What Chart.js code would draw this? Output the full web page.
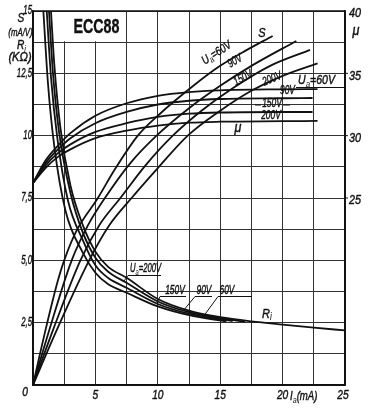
<!DOCTYPE html>
<html>
<head>
<meta charset="utf-8">
<script src="https://cdn.jsdelivr.net/npm/chart.js@4.4.0/dist/chart.umd.min.js"></script>
<style>
  body { margin: 0; background: #fff; }
</style>
</head>
<body>
<canvas id="grafico" width="373" height="410"></canvas>
<script>
// Ia (mA) -> S (mA/V), Ri (kOhm) en eje izquierdo, mu en eje derecho
const sIa60  = [0, 1, 2, 2.5, 3.5, 5.2, 6.5, 8.4, 10, 13.1, 15, 17, 19.2];
const sVal60 = [0, 2.2, 4.2, 5.0, 6.2, 7.5, 8.6, 10.0, 10.8, 12.1, 12.8, 13.4, 14.0];
const sIa90  = [0, 1.3, 3.1, 4.4, 5.9, 7.8, 9.9, 12.5, 15, 17.5, 21.1];
const sVal90 = [0, 2.2, 5.0, 6.4, 7.6, 8.9, 10.0, 11.1, 12.0, 12.8, 13.8];
const sIa150  = [0, 1.6, 3.8, 5.3, 7.0, 9, 11.2, 13.5, 16, 19, 22.2];
const sVal150 = [0, 2.2, 5.0, 6.4, 7.5, 8.8, 10.0, 11.0, 11.9, 12.8, 13.44];
const sIa200  = [0, 1.9, 4.5, 6.1, 7.9, 10, 12.4, 15, 17.5, 20, 22.8];
const sVal200 = [0, 2.2, 5.0, 6.4, 7.5, 8.7, 10.0, 11.0, 11.8, 12.4, 12.9];

const muIa60   = [0, 1, 2, 3, 5, 7.5, 10, 12.5, 15, 20, 22.8];
const muVal60  = [26.2, 28.0, 29.2, 30.2, 31.6, 32.6, 33.2, 33.5, 33.64, 33.72, 33.74];
const muIa90   = [0, 1, 2, 3, 5, 7.5, 10, 12.5, 15, 20, 22.4];
const muVal90  = [26.2, 27.8, 28.9, 29.8, 31.0, 31.9, 32.5, 32.8, 32.94, 33.0, 33.02];
const muIa150  = [0, 1, 2, 3, 5, 7.5, 10, 12.5, 15, 20, 22.4];
const muVal150 = [26.2, 27.6, 28.6, 29.3, 30.3, 31.0, 31.5, 31.76, 31.86, 31.9, 31.9];
const muIa200  = [0, 1, 2, 3, 5, 7.5, 10, 12.5, 15, 20, 22.8];
const muVal200 = [26.2, 27.4, 28.3, 28.9, 29.8, 30.4, 30.8, 31.04, 31.12, 31.16, 31.18];

const riIa200  = [1.44, 1.7, 2.2, 3, 4, 5, 6, 7.5, 10, 12.5, 15, 17.5, 20, 22.5, 25];
const riVal200 = [15, 12.9, 10.3, 8.0, 6.4, 5.35, 4.75, 4.3, 3.45, 2.98, 2.72, 2.55, 2.42, 2.3, 2.19];
const riIa150  = [1.28, 1.6, 2.1, 3, 4, 5, 6, 7.5, 10, 12.5, 15, 17];
const riVal150 = [15, 12.5, 10.1, 7.7, 6.1, 5.1, 4.55, 4.1, 3.35, 2.92, 2.68, 2.54];
const riIa90  = [1.1, 1.45, 1.95, 2.8, 4, 5, 6, 7.5, 10, 12.5, 16];
const riVal90 = [15, 12.3, 9.9, 7.4, 5.8, 4.8, 4.3, 3.9, 3.25, 2.86, 2.56];
const riIa60  = [0.83, 1.2, 1.7, 2.6, 4, 5, 6, 7.5, 10, 12.5, 15.5];
const riVal60 = [15, 12.1, 9.6, 7.0, 5.3, 4.5, 4.05, 3.7, 3.15, 2.8, 2.55];

const ticksIa = [0, 5, 10, 15, 20, 25];
const ticksIzq = [2.5, 5, 7.5, 10, 12.5, 15];
const textoIzq = ['2,5', '5,0', '7,5', '10', '12,5', '15'];
const ticksMu = [25, 30, 35, 40];

const fuente = '"Liberation Sans", Arimo, "DejaVu Sans", sans-serif';

function puntos(xs, ys) {
  return xs.map((x, i) => ({x: x, y: ys[i]}));
}

function curva(xs, ys, eje) {
  return {
    data: puntos(xs, ys),
    yAxisID: eje,
    borderColor: '#111',
    borderWidth: 1.8,
    pointRadius: 0,
    fill: false,
    cubicInterpolationMode: 'monotone'
  };
}

const datasets = [
  curva(sIa60, sVal60, 'y'),
  curva(sIa90, sVal90, 'y'),
  curva(sIa150, sVal150, 'y'),
  curva(sIa200, sVal200, 'y'),
  curva(muIa60, muVal60, 'mu'),
  curva(muIa90, muVal90, 'mu'),
  curva(muIa150, muVal150, 'mu'),
  curva(muIa200, muVal200, 'mu'),
  curva(riIa200, riVal200, 'y'),
  curva(riIa150, riVal150, 'y'),
  curva(riIa90, riVal90, 'y'),
  curva(riIa60, riVal60, 'y')
];

// texto condensado (sx) y girado
function texto(ctx, t, x, y, ang, tam, alin, sx, peso) {
  ctx.save();
  ctx.translate(x, y);
  ctx.rotate(ang * Math.PI / 180);
  ctx.scale(sx || 0.8, 1);
  ctx.font = (peso || 'italic') + ' ' + tam + 'px ' + fuente;
  ctx.textAlign = alin || 'center';
  ctx.textBaseline = 'middle';
  ctx.fillStyle = '#111';
  ctx.strokeStyle = '#111';
  ctx.lineWidth = 0.4;
  ctx.fillText(t, 0, 0);
  ctx.strokeText(t, 0, 0);
  ctx.restore();
}

// base + subindice + resto, alineado a la izquierda
function conSub(ctx, base, sub, resto, x, y, ang, tam, sx) {
  ctx.save();
  ctx.translate(x, y);
  ctx.rotate(ang * Math.PI / 180);
  ctx.scale(sx || 0.8, 1);
  ctx.fillStyle = '#111';
  ctx.strokeStyle = '#111';
  ctx.lineWidth = 0.4;
  ctx.textBaseline = 'middle';
  ctx.textAlign = 'left';
  ctx.font = 'italic ' + tam + 'px ' + fuente;
  ctx.fillText(base, 0, 0);
  ctx.strokeText(base, 0, 0);
  let w = ctx.measureText(base).width;
  ctx.font = 'italic ' + (tam - 3) + 'px ' + fuente;
  ctx.fillText(sub, w, 3);
  w += ctx.measureText(sub).width;
  ctx.font = 'italic ' + tam + 'px ' + fuente;
  ctx.fillText(resto, w, 0);
  ctx.strokeText(resto, w, 0);
  ctx.restore();
}

function linea(ctx, x1, y1, x2, y2) {
  ctx.beginPath();
  ctx.moveTo(x1, y1);
  ctx.lineTo(x2, y2);
  ctx.stroke();
}

const cajaTitulo = {
  id: 'cajaTitulo',
  beforeDatasetsDraw(chart) {
    const ctx = chart.ctx;
    const sx = chart.scales.x, sy = chart.scales.y;
    const x1 = sx.getPixelForValue(2.5) - 1, x2 = sx.getPixelForValue(7.5) - 1;
    const y1 = sy.getPixelForValue(15) + 1, y2 = sy.getPixelForValue(13.75) - 1;
    ctx.save();
    ctx.fillStyle = '#fff';
    ctx.fillRect(x1, y1, x2 - x1, y2 - y1);
    ctx.restore();
    texto(ctx, 'ECC88', (x1 + x2) / 2 + 2, (y1 + y2) / 2 + 1, 0, 21, 'center', 0.68, 'bold');
  }
};

const rotulos = {
  id: 'rotulos',
  afterDraw(chart) {
    const ctx = chart.ctx;
    const sx = chart.scales.x, sy = chart.scales.y, sm = chart.scales.mu;
    const a = chart.chartArea;
    ctx.save();
    ctx.strokeStyle = '#111';
    ctx.lineWidth = 1.5;
    ctx.strokeRect(a.left, a.top, a.right - a.left, a.bottom - a.top);

    // ticks
    ticksIzq.forEach((v, i) => texto(ctx, textoIzq[i], 32, sy.getPixelForValue(v), 0, 12, 'right', 0.65));
    ticksIa.forEach(v => {
      if (v === 0) texto(ctx, '0', 25, 393, 0, 12, 'center', 0.85);
      else if (v === 25) texto(ctx, '25', 343, 396, 0, 12, 'center', 0.85);
      else texto(ctx, String(v), sx.getPixelForValue(v), 396, 0, 12, 'center', 0.85);
    });
    ticksMu.forEach(v => {
      const y = sm.getPixelForValue(v);
      texto(ctx, String(v), 349, y + 3, 0, 12, 'left', 0.9);
      ctx.lineWidth = 1;
      if (v < 40) linea(ctx, a.right, y, a.right + 3, y);
    });

    // titulo eje izquierdo
    texto(ctx, 'S', 21, 19, 0, 12, 'center', 0.85);
    texto(ctx, '(mA/V)', 20.5, 33, 0, 11.5, 'center', 0.68);
    conSub(ctx, 'R', 'i', '', 17, 46, 0, 12, 0.85);
    texto(ctx, '(KΩ)', 20, 58, 0, 12, 'center', 0.92);
    // eje derecho
    texto(ctx, 'μ', 356, 31, 0, 14, 'center', 0.9);
    // eje x
    conSub(ctx, 'I', 'a', '(mA)', 290, 397, 0, 12, 0.8);

    ctx.lineWidth = 1;
    // curvas S
    texto(ctx, 'S', 262, 33, 0, 13, 'center', 0.85);
    conSub(ctx, 'U', 'a', '=60V', 203, 62, -33, 12, 0.78);
    texto(ctx, '90V', 235, 61, -30, 12, 'center', 0.7);
    texto(ctx, '150V', 243, 78, -27, 12, 'center', 0.7);
    texto(ctx, '200V', 272, 79, -22, 12, 'center', 0.7);

    // curvas mu
    conSub(ctx, 'U', 'a', '=60V', 298, 81, 0, 12, 0.88);
    linea(ctx, 296, 87.5, 345, 87.5);
    texto(ctx, '90V', 287.5, 91, 0, 12, 'center', 0.7);
    texto(ctx, '150V', 272, 104, 0, 12, 'center', 0.7);
    linea(ctx, 255, 105, 261, 105);
    linea(ctx, 283, 105, 290, 105);
    texto(ctx, '200V', 271, 116, 0, 12, 'center', 0.7);
    texto(ctx, 'μ', 238, 128, 0, 14, 'center', 0.9);

    // curvas Ri
    conSub(ctx, 'U', 'a', '=200V', 130, 269, 0, 12, 0.64);
    linea(ctx, 128, 275.5, 161, 275.5);
    linea(ctx, 128, 275.5, 124, 281);
    texto(ctx, '150V', 175, 291, 0, 12, 'center', 0.7);
    linea(ctx, 160, 296.5, 186, 296.5);
    linea(ctx, 160, 296.5, 157, 303);
    texto(ctx, '90V', 204, 291, 0, 12, 'center', 0.7);
    linea(ctx, 195, 296.5, 212, 296.5);
    linea(ctx, 195, 296.5, 183, 311);
    texto(ctx, '60V', 227, 291, 0, 12, 'center', 0.7);
    linea(ctx, 218, 296.5, 252, 296.5);
    linea(ctx, 218, 296.5, 203, 317);
    conSub(ctx, 'R', 'i', '', 262, 314, 0, 13, 0.85);
    ctx.restore();
  }
};

const config = {
  type: 'line',
  data: { datasets: datasets },
  options: {
    responsive: false,
    animation: false,
    events: [],
    layout: { padding: { top: 11, bottom: 0, left: 0, right: 0 } },
    plugins: { legend: { display: false }, tooltip: { enabled: false } },
    scales: {
      x: {
        type: 'linear',
        min: 0, max: 25,
        border: { color: '#111', width: 1.5 },
        grid: { color: '#333', lineWidth: 1, drawTicks: false },
        afterBuildTicks(scale) {
          scale.ticks = [];
          for (let v = 0; v <= 25; v += 2.5) scale.ticks.push({value: v});
        },
        ticks: { display: false },
        afterFit(scale) { scale.height = 25; }
      },
      y: {
        type: 'linear', position: 'left',
        min: 0, max: 15,
        border: { color: '#111', width: 1.5 },
        grid: { color: '#333', lineWidth: 1, drawTicks: false },
        afterBuildTicks(scale) {
          scale.ticks = [];
          for (let v = 0; v <= 15; v += 1.25) scale.ticks.push({value: v});
        },
        ticks: { display: false },
        afterFit(scale) { scale.width = 33; }
      },
      mu: {
        type: 'linear', position: 'right',
        min: 10, max: 40,
        border: { color: '#111', width: 1.5 },
        grid: { display: false, drawTicks: false },
        ticks: { display: false },
        afterFit(scale) { scale.width = 28; }
      }
    }
  },
  plugins: [cajaTitulo, rotulos]
};

const myChart = new Chart(document.getElementById('grafico'), config);
</script>
</body>
</html>
